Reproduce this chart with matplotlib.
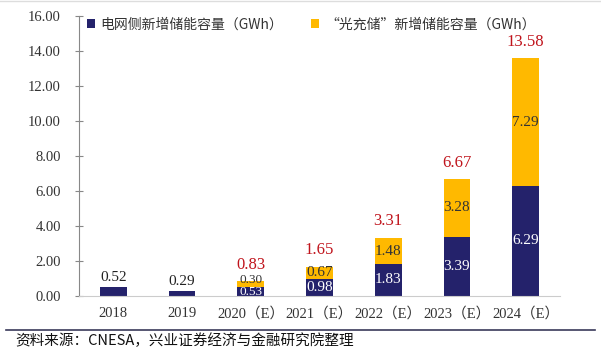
import matplotlib
matplotlib.use("Agg")
import matplotlib.pyplot as plt
import numpy as np

categories = ["2018", "2019", "2020（E）", "2021（E）", "2022（E）", "2023（E）", "2024（E）"]
grid_side = [0.52, 0.29, 0.53, 0.98, 1.83, 3.39, 6.29]
pv_storage = [0.0, 0.0, 0.30, 0.67, 1.48, 3.28, 7.29]
totals = [None, None, 0.83, 1.65, 3.31, 6.67, 13.58]
yticks = [0, 2, 4, 6, 8, 10, 12, 14, 16]

navy = "#24226B"
gold = "#FFB900"
red = "#C0141C"
cjk = ["Noto Sans CJK SC", "DejaVu Sans"]
serif = ["Liberation Serif", "Noto Sans CJK SC"]

fig = plt.figure(figsize=(6.01, 3.54), dpi=100)
ax = fig.add_axes([79/601, 1-296/354, (560-79)/601, 280/354])
x = np.arange(len(categories))
w = 0.39
ax.bar(x, grid_side, w, color=navy, label="电网侧新增储能容量（GWh）")
ax.bar(x, pv_storage, w, bottom=grid_side, color=gold, label="“光充储”新增储能容量（GWh）")

ax.set_xlim(-0.5, len(categories) - 0.5)
ax.set_ylim(0, 16)
ax.set_yticks(yticks)
ax.set_yticklabels([f"{v:.2f}" for v in yticks], family=serif, fontsize=10.5, color="#333333")
ax.set_xticks(x)
ax.set_xticklabels(categories, family=["Liberation Serif", "Noto Sans CJK SC"], fontsize=10.5, color="#333333")
ax.tick_params(axis="x", length=0, pad=8)
ax.tick_params(axis="y", direction="inout", length=6, color="#888888", pad=10)
for s in ["top", "right"]:
    ax.spines[s].set_visible(False)
ax.spines["left"].set_color("#888888")
ax.spines["bottom"].set_color("#CCCCCC")

for i in range(len(categories)):
    g = grid_side[i]
    p = pv_storage[i]
    if p == 0:
        ax.text(x[i], g + 0.15, f"{g:.2f}", ha="center", va="bottom", family=serif, fontsize=11, color="#222222")
    elif p < 0.5:
        ax.text(x[i], g + 0.02, f"{g:.2f}", ha="center", va="top", family=serif, fontsize=9.5, color="white")
        ax.text(x[i], g + 0.05, f"{p:.2f}", ha="center", va="bottom", family=serif, fontsize=9.5, color="#333333")
    else:
        ax.text(x[i], g / 2, f"{g:.2f}", ha="center", va="center", family=serif, fontsize=11, color="white")
        ax.text(x[i], g + p / 2, f"{p:.2f}", ha="center", va="center", family=serif, fontsize=11, color="#333333")
    if totals[i] is not None:
        ax.text(x[i], g + p + 0.5, f"{totals[i]:.2f}", ha="center", va="bottom", family=serif, fontsize=12, color=red)

leg = ax.legend(loc="upper left", bbox_to_anchor=(-0.01, 1.04), ncol=2, frameon=False,
                prop={"family": cjk, "size": 10}, handlelength=0.6, handleheight=0.6,
                handletextpad=0.4, columnspacing=2.0, labelcolor="#333333")

fig.add_artist(plt.Line2D([0.01, 0.99], [1-330/354, 1-330/354], color="#3A3A5A", lw=1.2))
fig.add_artist(plt.Line2D([0.0, 1.0], [1-1/354, 1-1/354], color="#DDDDDD", lw=1))
fig.text(15/601, 1-341/354, "资料来源：CNESA，兴业证券经济与金融研究院整理", family=cjk, fontsize=10.5,
         va="center", ha="left", color="#111111")

fig.savefig("out.png", dpi=100)
